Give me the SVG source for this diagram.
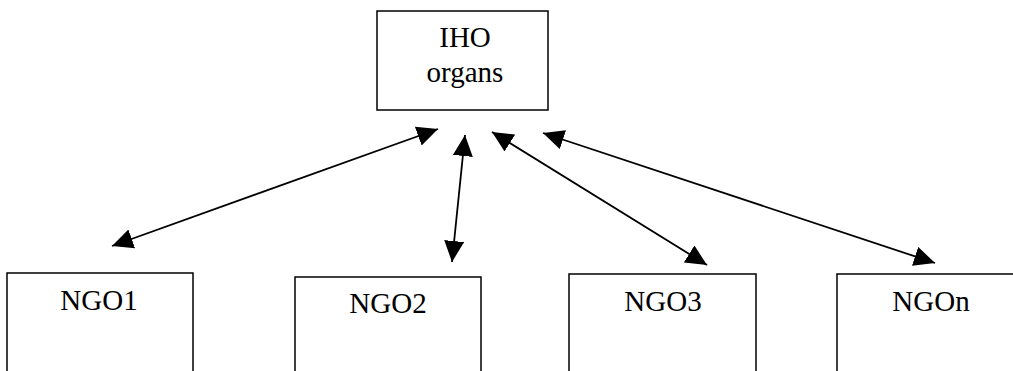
<svg xmlns="http://www.w3.org/2000/svg" width="1013" height="371" viewBox="0 0 1013 371">
<style>
.box{fill:#fff;stroke:#000;stroke-width:1.5}
.t{font-family:"Liberation Serif","Times New Roman",serif;font-size:29px;fill:#000;text-anchor:middle}
.c{stroke:#000;stroke-width:1.8;fill:none;marker-start:url(#ah);marker-end:url(#ah)}
</style>
<defs>
<marker id="ah" markerUnits="userSpaceOnUse" markerWidth="21" markerHeight="20" viewBox="0 0 21 20" refX="21" refY="10" orient="auto-start-reverse">
<path d="M0,0 L21,10 L0,20 Z" fill="#000"/>
</marker>
</defs>
<rect width="1013" height="371" fill="#fff"/>
<g id="iho">
<rect class="box" x="377" y="11" width="171" height="99"/>
<text class="t" x="465" y="47">IHO</text>
<text class="t" x="465" y="82">organs</text>
</g>
<g id="ngo1">
<rect class="box" x="7" y="273" width="186" height="110"/>
<text class="t" x="99" y="310">NGO1</text>
</g>
<g id="ngo2">
<rect class="box" x="295" y="277" width="186" height="110"/>
<text class="t" x="388" y="313">NGO2</text>
</g>
<g id="ngo3">
<rect class="box" x="569" y="274" width="187" height="110"/>
<text class="t" x="663" y="311">NGO3</text>
</g>
<g id="ngon">
<rect class="box" x="837" y="274" width="187" height="110"/>
<text class="t" x="931" y="311">NGOn</text>
</g>
<g id="connectors">
<line class="c" x1="112" y1="246" x2="438" y2="129"/>
<line class="c" x1="452" y1="262" x2="465" y2="135"/>
<line class="c" x1="707" y1="265" x2="492" y2="132"/>
<line class="c" x1="935" y1="263" x2="543" y2="133"/>
</g>
</svg>
